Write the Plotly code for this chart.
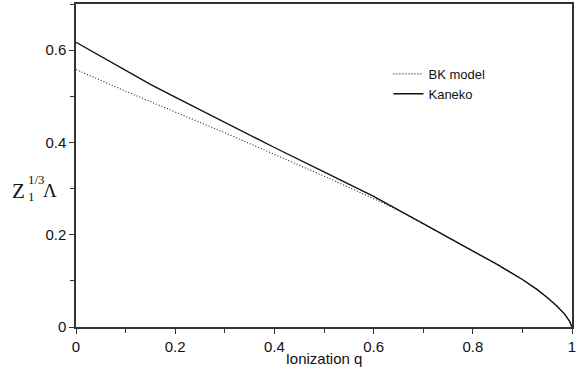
import plotly.graph_objects as go

q_kaneko = [0.0, 0.05, 0.1, 0.15, 0.2, 0.3, 0.4, 0.5, 0.6, 0.7, 0.8, 0.85, 0.9, 0.93, 0.95, 0.97, 0.985, 0.995, 1.0]
kaneko = [0.617, 0.587, 0.557, 0.526, 0.498, 0.443, 0.389, 0.336, 0.283, 0.224, 0.165, 0.135, 0.103, 0.081, 0.064, 0.045, 0.028, 0.013, 0.0]

q_bk = [0.0, 0.1, 0.2, 0.3, 0.4, 0.5, 0.6, 0.65, 0.7, 0.8, 0.85, 0.9, 0.93, 0.95, 0.97, 0.985, 0.995, 1.0]
bk = [0.558, 0.511, 0.466, 0.421, 0.374, 0.327, 0.278, 0.253, 0.224, 0.165, 0.135, 0.103, 0.081, 0.064, 0.045, 0.028, 0.013, 0.0]

fig = go.Figure()
fig.add_trace(go.Scatter(x=q_bk, y=bk, mode="lines", name="BK model",
                         line=dict(color="#222", width=1.1, dash="1px,2px")))
fig.add_trace(go.Scatter(x=q_kaneko, y=kaneko, mode="lines", name="Kaneko",
                         line=dict(color="#111", width=1.4)))

tickfont = dict(family="Liberation Sans, Arial", size=15, color="#111")
axis_common = dict(showline=True, linecolor="#333", linewidth=1.5, mirror=True,
                   ticks="outside", ticklen=5, tickcolor="#333", showgrid=False,
                   zeroline=False, tickfont=tickfont)

fig.update_xaxes(range=[0, 1], dtick=0.2, tick0=0,
                 minor=dict(dtick=0.1, ticks="outside", ticklen=4, tickcolor="#333"),
                 title=dict(text="Ionization q", font=tickfont, standoff=0),
                 **axis_common)
fig.update_yaxes(range=[0, 0.7], dtick=0.2, tick0=0,
                 minor=dict(dtick=0.1, ticks="outside", ticklen=4, tickcolor="#333"),
                 **axis_common)

serif = "Liberation Serif, Times New Roman"
lab = [
    ("Z", -0.132, 0.4215, 21, 0),
    ("1/3", -0.0995, 0.457, 13, 0),
    ("1", -0.0995, 0.403, 13, 0),
    ("Λ", -0.0685, 0.4215, 19, 0),
]
for txt, x, y, s, bp in lab:
    fig.add_annotation(text=txt, xref="paper", yref="paper", x=x, y=y,
                       showarrow=False, xanchor="left", yanchor="middle",
                       borderpad=bp,
                       font=dict(family=serif, size=s, color="#111"))

fig.update_layout(
    width=578, height=377,
    margin=dict(l=76, r=5, t=2, b=50),
    plot_bgcolor="white", paper_bgcolor="white",
    showlegend=True,
    legend=dict(x=0.63, y=0.83, xanchor="left", yanchor="top",
                bgcolor="rgba(0,0,0,0)", borderwidth=0,
                font=dict(family="Liberation Sans, Arial", size=13, color="#111"),
                itemwidth=30, tracegroupgap=0),
)

fig.write_html("out.html")
